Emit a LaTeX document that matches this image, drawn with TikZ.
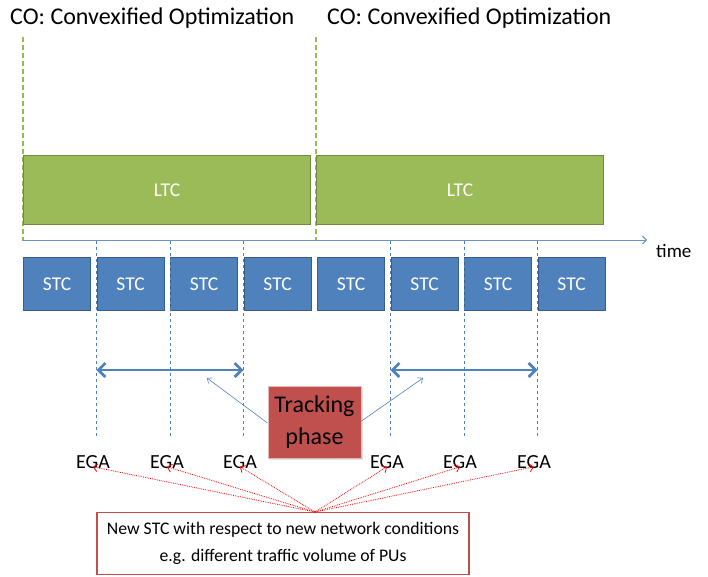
\documentclass[tikz,border=0pt]{standalone}
\usepackage{fontspec}
\setmainfont{Carlito}
\usetikzlibrary{arrows.meta,shadows}
\definecolor{ltcfill}{HTML}{9BBB59}
\definecolor{ltcdraw}{HTML}{71893F}
\definecolor{stcfill}{HTML}{4F81BD}
\definecolor{stcdraw}{HTML}{385D8A}
\definecolor{trkfill}{HTML}{C0504D}
\definecolor{trkdraw}{HTML}{E6B9B8}
\definecolor{redline}{HTML}{C0504D}
\begin{document}
\begin{tikzpicture}[x=1pt,y=-1pt,
  ltcbox/.style={draw=ltcdraw,line width=1.2pt,fill=ltcfill,minimum width=287pt,minimum height=69pt,text=white,font=\fontsize{19.5}{22}\selectfont,anchor=north west,inner sep=0pt},
  stcbox/.style={draw=stcdraw,line width=1.2pt,fill=stcfill,minimum width=67pt,minimum height=53pt,text=white,font=\fontsize{19.5}{22}\selectfont,anchor=north west,inner sep=0pt},
  title/.style={font=\fontsize{24}{26}\selectfont,anchor=west,inner sep=0pt},
  ega/.style={font=\fontsize{20}{22}\selectfont,inner sep=1pt},
  gdash/.style={draw=ltcfill,dash pattern=on 5pt off 3pt,line width=1.4pt},
  bdash/.style={draw=stcfill,dashed,line width=0.6pt},
  dbl/.style={draw=stcfill,line width=2.8pt,{Straight Barb[length=7pt,width=14pt]}-{Straight Barb[length=7pt,width=14pt]}},
  thin/.style={draw=stcfill,line width=0.6pt,-{Straight Barb[length=4pt,width=7pt]}},
  redarr/.style={draw=red,densely dotted,line width=0.8pt,-{Straight Barb[length=4pt,width=8pt]}}
]
\useasboundingbox (0,0) rectangle (708,576);
% titles
\node[title] (t1) at (10,18) {CO: Convexified Optimization};
\node[title] (t2) at (327,18) {CO: Convexified Optimization};
% green dashed lines
\coordinate (g1t) at (23,37); \coordinate (g1b) at (23,241);
\coordinate (g2t) at (316,37); \coordinate (g2b) at (316,241);
\draw[gdash] (g1t) -- (g1b);
\draw[gdash] (g2t) -- (g2b);
% LTC
\node[ltcbox] (l1) at (23,155) {LTC};
\node[ltcbox] (l2) at (316,155) {LTC};
% time axis
\coordinate (ax0) at (23,240);
\coordinate (ax1) at (647,240);
\draw[draw=stcfill!85,line width=1pt,-{Straight Barb[length=4pt,width=8pt]}] (ax0) -- (ax1);
\node[font=\fontsize{19}{21}\selectfont,anchor=west,inner sep=0pt] (time) at (656,251) {time};
% STC boxes
\foreach \i/\x in {1/23,2/96.5,3/170,4/243.5,5/317,6/390.5,7/464,8/537.5}{
  \node[stcbox] (s\i) at (\x,257) {STC};
}
% blue dashed lines
\foreach \i/\x in {1/96.5,2/170,3/243.5,4/390.5,5/464,6/537.5}{
  \coordinate (d\i t) at (\x,241);
  \coordinate (d\i b) at (\x,437);
  \draw[bdash] (d\i t) -- (d\i b);
}
% double arrows
\coordinate (a1l) at (96.5,370); \coordinate (a1r) at (243.5,370);
\coordinate (a2l) at (390.5,370); \coordinate (a2r) at (537.5,370);
\draw[dbl] (a1l) -- (a1r);
\draw[dbl] (a2l) -- (a2r);
% tracking phase
\node[draw=trkdraw,line width=1pt,fill=trkfill,minimum width=93pt,minimum height=72pt,inner sep=0pt,
  font=\fontsize{24}{32}\selectfont,align=center,drop shadow={opacity=0.25,shadow xshift=2pt,shadow yshift=-2pt}] (trk) at (314.5,422) {\raisebox{-3pt}{Tracking}\\\raisebox{-3pt}{phase}};
\coordinate (p1) at (207,378);
\coordinate (p2) at (423,378);
\draw[thin] (trk.west |- 0,423) -- (p1);
\draw[thin] (trk.east |- 0,421) -- (p2);
% EGA labels
\foreach \i/\x in {1/93,2/167,3/240,4/387,5/460,6/534}{
  \node[ega] (e\i) at (\x,462) {EGA};
}
% bottom box
\node[draw=redline,line width=1.2pt,fill=white,minimum width=372pt,minimum height=62pt,inner sep=0pt,
  font=\fontsize{17.7}{27}\selectfont,align=center] (nb) at (283,543.5) {New STC with respect to new network conditions\\e.g. different traffic volume of PUs};
\coordinate (src) at (315,512);
\foreach \i in {1,...,6}{
  \draw[redarr] (src) -- ([yshift=3pt]e\i.south);
}
\end{tikzpicture}
\end{document}
